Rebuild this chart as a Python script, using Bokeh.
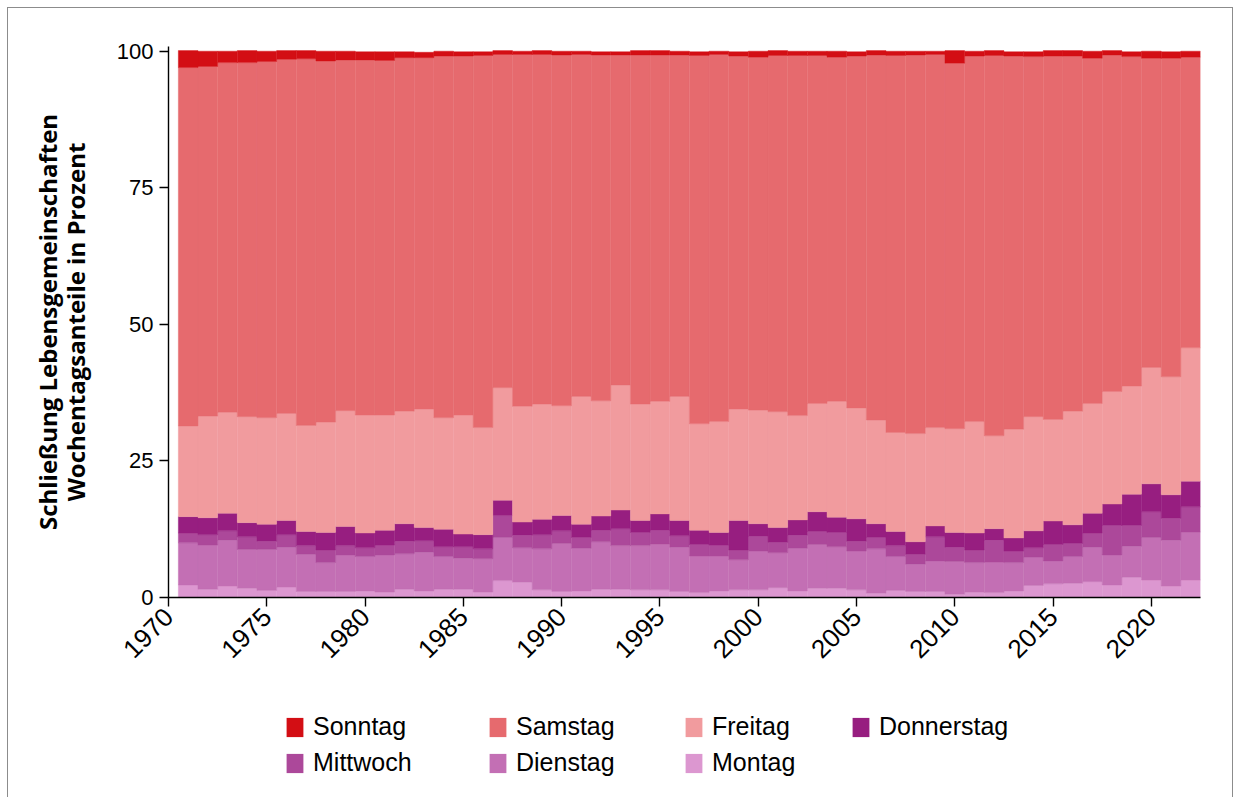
from math import pi
from bokeh.plotting import figure
from bokeh.layouts import column
from bokeh.models import (Range1d, FixedTicker, Legend, LegendItem, ColumnDataSource,
                          BoxAnnotation)
from bokeh.embed import file_html
from bokeh.resources import INLINE

years = list(range(1971, 2023))

montag = [2.3, 1.5, 2.1, 1.7, 1.3, 1.9, 1.1, 1.1, 1.1, 1.2,
          1.0, 1.5, 1.2, 1.5, 1.5, 1.0, 3.1, 2.8, 1.4, 1.1,
          1.2, 1.5, 1.5, 1.4, 1.4, 1.1, 0.9, 1.2, 1.4, 1.4,
          1.8, 1.2, 1.7, 1.7, 1.4, 0.8, 1.3, 1.1, 1.1, 0.6,
          1.0, 0.9, 1.2, 2.2, 2.5, 2.6, 2.9, 2.3, 3.7, 3.2,
          2.1, 3.2]
dienstag = [7.7, 8.1, 8.4, 7.1, 7.5, 7.3, 6.8, 5.3, 6.7, 6.3,
            6.8, 6.5, 7.1, 6.0, 5.7, 6.1, 7.9, 6.3, 7.5, 8.8,
            7.8, 8.7, 8.0, 8.1, 8.4, 8.1, 6.7, 6.4, 5.5, 7.1,
            6.4, 7.8, 8.0, 7.6, 7.1, 8.1, 6.2, 5.0, 5.6, 6.0,
            5.4, 5.6, 5.2, 5.2, 4.2, 4.9, 6.3, 5.5, 5.7, 7.8,
            8.4, 8.8]
mittwoch = [1.8, 1.9, 1.7, 2.3, 1.5, 2.3, 1.6, 2.3, 1.7, 1.6,
            1.8, 2.3, 2.1, 1.8, 2.1, 1.8, 4.0, 2.3, 2.6, 2.3,
            2.0, 2.1, 3.1, 2.4, 2.5, 2.1, 2.1, 2.0, 1.8, 2.7,
            1.9, 2.4, 2.4, 2.6, 1.8, 2.1, 2.0, 1.8, 4.4, 2.6,
            2.3, 4.0, 2.1, 1.7, 3.0, 2.4, 2.6, 5.4, 3.8, 4.7,
            4.0, 4.6]
donnerstag = [3.0, 3.1, 3.2, 2.6, 3.1, 2.6, 2.6, 3.2, 3.5, 2.7,
              2.7, 3.2, 2.4, 3.2, 2.3, 2.6, 2.8, 2.4, 2.8, 2.8,
              2.4, 2.6, 3.4, 2.2, 3.0, 2.8, 2.6, 2.3, 5.4, 2.3,
              2.7, 2.8, 3.6, 2.8, 4.1, 2.5, 2.6, 2.3, 2.0, 2.7,
              3.1, 2.1, 2.4, 3.1, 4.3, 3.4, 3.6, 3.9, 5.7, 5.1,
              4.3, 4.7]
freitag = [16.6, 18.6, 18.5, 19.4, 19.5, 19.6, 19.4, 20.2, 21.2, 21.6,
           21.1, 20.6, 21.7, 20.4, 21.8, 19.6, 20.6, 21.2, 21.1, 20.1,
           23.4, 21.1, 22.9, 21.3, 20.6, 22.7, 19.5, 20.3, 20.4, 20.8,
           21.2, 19.1, 19.8, 21.2, 20.3, 19.0, 18.1, 19.8, 18.0, 19.0,
           20.4, 17.0, 19.9, 20.9, 18.6, 20.8, 20.1, 20.6, 19.8, 21.3,
           21.6, 24.4]
samstag = [65.6, 64.0, 64.0, 64.8, 65.2, 64.8, 67.1, 66.1, 64.2, 65.0,
           64.9, 64.7, 64.3, 66.2, 65.7, 68.1, 61.0, 64.4, 64.0, 64.2,
           62.6, 63.3, 60.4, 63.9, 63.4, 62.5, 67.4, 67.2, 64.6, 64.6,
           65.2, 65.9, 63.7, 63.0, 64.4, 66.8, 69.0, 69.3, 68.3, 66.9,
           66.9, 69.6, 68.3, 65.9, 66.5, 65.0, 63.2, 61.6, 60.3, 56.6,
           58.3, 53.2]
sonntag = [3.1, 2.8, 2.1, 2.2, 1.9, 1.6, 1.5, 1.8, 1.6, 1.5,
           1.6, 1.1, 1.0, 0.9, 0.8, 0.7, 0.7, 0.6, 0.7, 0.7,
           0.6, 0.6, 0.6, 0.8, 0.8, 0.7, 0.7, 0.6, 0.8, 1.1,
           0.9, 0.8, 0.8, 1.1, 0.8, 0.8, 0.8, 0.7, 0.6, 2.3,
           0.9, 0.9, 0.8, 0.9, 1.0, 1.0, 1.3, 0.8, 0.9, 1.3,
           1.2, 1.1]

stack_names = ["Montag", "Dienstag", "Mittwoch", "Donnerstag", "Freitag", "Samstag", "Sonntag"]
colors = ["#dc97d0", "#c36fb4", "#ac489a", "#971e80", "#f19b9e", "#e66a6e", "#d30e14"]
x_ticks = list(range(1970, 2021, 5))
y_ticks = [0, 25, 50, 75, 100]

src = ColumnDataSource(dict(year=years, Montag=montag, Dienstag=dienstag, Mittwoch=mittwoch,
                            Donnerstag=donnerstag, Freitag=freitag, Samstag=samstag, Sonntag=sonntag))

W = 1224
p = figure(width=W, height=672, output_backend="svg", toolbar_location=None,
           x_range=Range1d(1970, 2022.5), y_range=Range1d(0, 100.85),
           min_border_left=160, min_border_right=32, min_border_top=38, min_border_bottom=83)

p.vbar_stack(stack_names, x="year", width=1, source=src,
             fill_color=colors, line_color=colors, line_width=0.4)

p.xgrid.visible = False
p.ygrid.visible = False
p.outline_line_color = None

p.xaxis.ticker = FixedTicker(ticks=x_ticks)
p.yaxis.ticker = FixedTicker(ticks=y_ticks)
p.xaxis.major_label_orientation = pi / 4
for ax in (p.xaxis, p.yaxis):
    ax.minor_tick_line_color = None
    ax.major_tick_in = 0
    ax.major_tick_out = 9
    ax.major_tick_line_color = "black"
    ax.major_tick_line_width = 1.4
    ax.axis_line_color = "black"
    ax.axis_line_width = 1.4
    ax.major_label_text_font = "Liberation Sans"
    ax.major_label_text_color = "black"
p.yaxis.major_label_text_font_size = "22px"
p.xaxis.major_label_text_font_size = "26px"
p.yaxis.major_label_standoff = 6
p.xaxis.major_label_standoff = 6

p.yaxis.axis_label = "Schließung Lebensgemeinschaften\nWochentagsanteile in Prozent"
p.yaxis.axis_label_text_font = "Open Sans"
p.yaxis.axis_label_text_font_style = "bold"
p.yaxis.axis_label_text_font_size = "24px"
p.yaxis.axis_label_text_line_height = 0.85
p.yaxis.axis_label_text_color = "black"
p.yaxis.axis_label_standoff = 22

# legend panel below the chart; proxy renderers sit well inside and are hidden under a white cover box
H2 = 117
leg = figure(width=W, height=H2, output_backend="svg", toolbar_location=None,
             x_range=Range1d(1900, 2100), y_range=Range1d(-200, 300), min_border=0)
leg.xaxis.visible = False
leg.yaxis.visible = False
leg.xgrid.visible = False
leg.ygrid.visible = False
leg.outline_line_color = None
proxies = {n: leg.vbar(x="year", top=n, width=1, source=src, fill_color=c, line_color=None)
           for n, c in zip(stack_names, colors)}
leg.add_layout(BoxAnnotation(fill_color="white", fill_alpha=1.0, line_color=None,
                             level="annotation"))

columns_spec = [(["Sonntag", "Mittwoch"], 116),
                (["Samstag", "Dienstag"], 319),
                (["Freitag", "Montag"], 515),
                (["Donnerstag"], 682)]
ROW_H = 29
GAP = 7
TOP = 32
for names, xoff in columns_spec:
    nrows = len(names)
    bottom = H2 - (TOP + nrows * ROW_H + (nrows - 1) * GAP)
    lg = Legend(items=[LegendItem(label=n, renderers=[proxies[n]]) for n in names],
                location=(xoff, bottom), orientation="vertical",
                padding=0, margin=0, spacing=GAP, glyph_width=21, glyph_height=24,
                label_standoff=8, label_height=24,
                label_text_font="Liberation Sans", label_text_font_size="25px",
                label_text_color="black",
                border_line_color=None, background_fill_alpha=0)
    leg.add_layout(lg, "center")

layout = column(p, leg, spacing=0)
layout.styles = {"margin-left": "7px", "margin-top": "7px",
                 "border-top": "1px solid #8c8c8c", "border-left": "1px solid #8c8c8c",
                 "border-right": "1px solid #8c8c8c"}

open("out.html", "w").write(file_html(layout, INLINE))
